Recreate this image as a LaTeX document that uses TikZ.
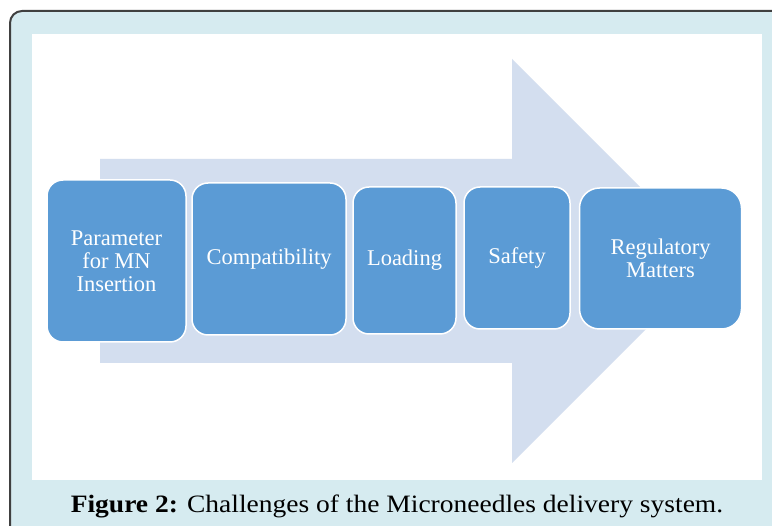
\documentclass[tikz,border=0pt]{standalone}
\usepackage{fontspec}
\setmainfont{Liberation Serif}
\definecolor{framefill}{RGB}{214,235,240}
\definecolor{framegray}{RGB}{64,64,64}
\definecolor{arrowfill}{RGB}{211,222,239}
\definecolor{boxblue}{RGB}{91,155,213}
\tikzset{
  stagebox/.style={draw=white, line width=1.5pt, fill=boxblue, rounded corners=16pt,
    text=white, align=center, inner sep=0pt, font=\fontsize{22.5}{23}\selectfont},
}
\begin{document}
\begin{tikzpicture}[x=1pt,y=-1pt]
\useasboundingbox (0,0) rectangle (772,526);
\begin{scope}
\clip (0,0) rectangle (772,526);
% outer panel with rounded top-left corner
\draw[line width=2pt, draw=framegray, fill=framefill, rounded corners=12pt]
  (10,11) rectangle (800,560);
\end{scope}
% white drawing area
\fill[white] (32,34) rectangle (762,480);
% large background arrow
\fill[arrowfill] (100,159) -- (512,159) -- (512,59) -- (714,261) -- (512,463)
  -- (512,363) -- (100,363) -- cycle;
% stages
\node[stagebox, minimum width=139pt, minimum height=162pt] (b1) at (116.5,261)
  {Parameter\\for MN\\Insertion};
\node[stagebox, minimum width=154pt, minimum height=152pt] (b2) at (269,259)
  {Compatibility};
\node[stagebox, minimum width=103pt, minimum height=147pt] (b3) at (404.5,260.5)
  {Loading};
\node[stagebox, minimum width=106pt, minimum height=142pt] (b4) at (517,258)
  {Safety};
\node[stagebox, minimum width=162pt, minimum height=141pt, rounded corners=20pt] (b5) at (660.5,258.5)
  {Regulatory\\Matters};
% caption
\node[font=\fontsize{25}{28}\selectfont, inner sep=0pt] (cap) at (397,506)
  {\scalebox{1.1}[1]{\textbf{Figure 2:} Challenges of the Microneedles delivery system.}};
\end{tikzpicture}
\end{document}
